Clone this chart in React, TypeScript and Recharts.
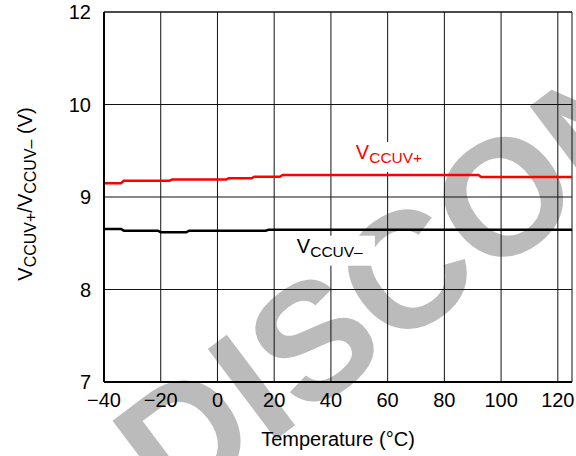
import React from 'react';
import { LineChart, Line, XAxis, YAxis, CartesianGrid, ReferenceLine, ReferenceDot } from 'recharts';

const xTicks = [-40, -20, 0, 20, 40, 60, 80, 100, 120];
const yTicks = [7, 8, 9, 10, 11];
const yTickLabels = ['7', '8', '9', '10', '12'];

const plusTemps = [-40, -34, -33, -17, -16, 3, 4, 12, 13, 22, 23, 92, 93, 125];
const plusValues = [9.15, 9.15, 9.175, 9.175, 9.188, 9.188, 9.202, 9.202, 9.219, 9.219, 9.238, 9.238, 9.216, 9.216];
const minusTemps = [-40, -34, -33, -21, -20, -11, -10, 17, 18, 125];
const minusValues = [8.655, 8.655, 8.636, 8.636, 8.618, 8.618, 8.636, 8.636, 8.646, 8.646];

const plusData = plusTemps.map((t, i) => ({ t, v: plusValues[i] }));
const minusData = minusTemps.map((t, i) => ({ t, v: minusValues[i] }));

const FONT = '"Liberation Sans", Arial, Helvetica, sans-serif';

const fmtX = (v: number) => String(v).replace('-', '\u2212');
const fmtY = (v: number) => {
  const i = yTicks.indexOf(v);
  return i >= 0 ? yTickLabels[i] : String(v);
};

const SeriesLabel = (props: any) => {
  const { cx, cy, color, sub } = props;
  if (cx == null || cy == null) return null;
  return (
    <g>
      <rect x={cx - 8} y={cy - 17} width={86} height={30} fill="#fff" />
      <text x={cx} y={cy} fill={color} fontFamily={FONT} fontSize={20}>
        V<tspan fontSize={15.5} dy={4}>{sub}</tspan>
      </text>
    </g>
  );
};

const YTitle = (props: any) => {
  const vb = props.viewBox || { x: 0, y: 12, width: 104, height: 370 };
  const x = vb.x + 32;
  const y = vb.y + vb.height / 2 - 3;
  return (
    <text x={x} y={y} transform={`rotate(-90, ${x}, ${y})`} textAnchor="middle" fontFamily={FONT} fontSize={20} fill="#000">
      V<tspan fontSize={16} dy={4}>CCUV+</tspan>
      <tspan fontSize={20} dy={-4}>/V</tspan>
      <tspan fontSize={16} dy={4}>CCUV–</tspan>
      <tspan fontSize={20} dy={-4}> (V)</tspan>
    </text>
  );
};

const XTitle = (props: any) => {
  const vb = props.viewBox || { x: 104, y: 382, width: 468, height: 74 };
  return (
    <text x={vb.x + vb.width / 2} y={vb.y + 64} textAnchor="middle" fontFamily={FONT} fontSize={20} fill="#000">
      Temperature (°C)
    </text>
  );
};

const Watermark = () => (
  <svg width={576} height={456} style={{ position: 'absolute', left: 0, top: 0 }}>
    <text
      x={172}
      y={518}
      transform="rotate(-37, 172, 518)"
      fontFamily={FONT}
      fontWeight="bold"
      fontSize={165}
      fill="#BBBBBB"
    >
      DISCONTINUED
    </text>
  </svg>
);

export default function App() {
  return (
    <div style={{ position: 'absolute', left: 0, top: 0, width: 576, height: 456, background: '#fff' }}>
      <Watermark />
      <div style={{ position: 'absolute', left: 0, top: 0 }}>
        <LineChart width={576} height={456} margin={{ top: 12, right: 4, bottom: 0, left: 0 }}>
          <CartesianGrid stroke="#111" strokeWidth={1} horizontalValues={yTicks} verticalValues={xTicks} />
          <XAxis
            type="number"
            dataKey="t"
            domain={[-40, 125]}
            ticks={xTicks}
            allowDataOverflow
            height={74}
            tickLine={false}
            tickSize={0}
            tickMargin={11}
            tickFormatter={fmtX}
            tick={{ fill: '#000', fontSize: 20, fontFamily: FONT }}
            axisLine={{ stroke: '#000', strokeWidth: 2 }}
            label={(p: any) => <XTitle {...p} />}
          />
          <YAxis
            type="number"
            dataKey="v"
            domain={[7, 11]}
            ticks={yTicks}
            allowDataOverflow
            width={104}
            tickLine={false}
            tickSize={0}
            tickMargin={13}
            tickFormatter={fmtY}
            tick={{ fill: '#000', fontSize: 20, fontFamily: FONT }}
            axisLine={{ stroke: '#000', strokeWidth: 2 }}
            label={(p: any) => <YTitle {...p} />}
          />
          <ReferenceLine x={125} stroke="#111" strokeWidth={1} />
          <ReferenceLine y={11} stroke="#111" strokeWidth={1} />
          <Line data={plusData} dataKey="v" type="linear" stroke="#FF0000" strokeWidth={2.5} dot={false} isAnimationActive={false} />
          <Line data={minusData} dataKey="v" type="linear" stroke="#000" strokeWidth={2.5} dot={false} isAnimationActive={false} />
          <ReferenceDot x={48.8} y={9.411} r={0} shape={(p: any) => <SeriesLabel {...p} color="#FF0000" sub="CCUV+" />} />
          <ReferenceDot x={28} y={8.398} r={0} shape={(p: any) => <SeriesLabel {...p} color="#000" sub="CCUV–" />} />
        </LineChart>
      </div>
    </div>
  );
}
